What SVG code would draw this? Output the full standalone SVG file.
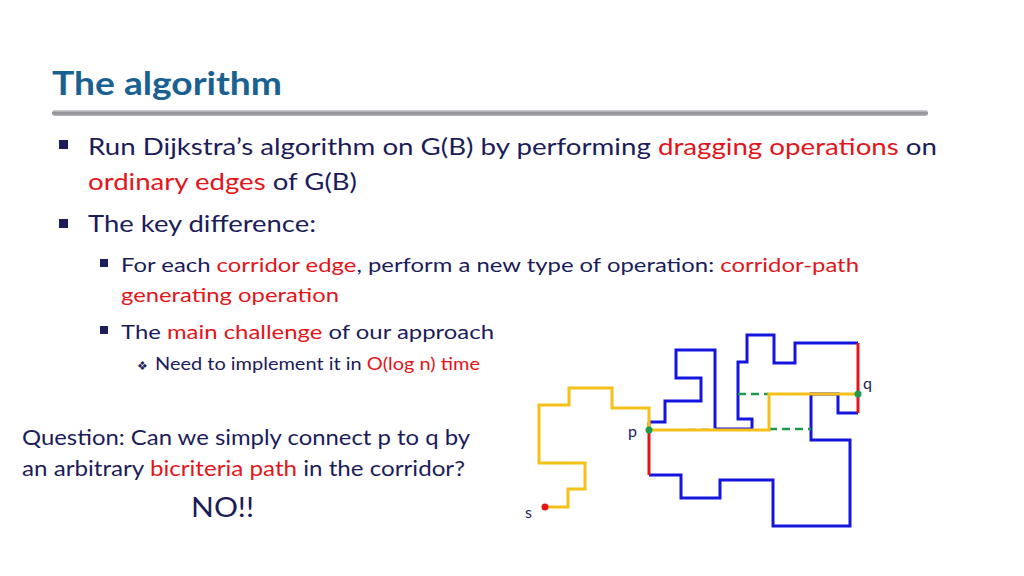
<svg xmlns="http://www.w3.org/2000/svg" width="1024" height="576" viewBox="0 0 1024 576">
<defs>
<linearGradient id="bar" x1="0" y1="0" x2="0" y2="1"><stop offset="0" stop-color="#d8d8dc"/><stop offset="0.5" stop-color="#8a8a92"/><stop offset="1" stop-color="#b8b8bc"/></linearGradient>
</defs>
<style>
text{font-family:Lato,"Liberation Sans",sans-serif;fill:#1c1c5a}
.r{fill:#e3141a}
.b{fill:none;stroke:#1515e0;stroke-width:3}
.y{fill:none;stroke:#f5c018;stroke-width:3}
.red{stroke:#e3141a;stroke-width:3}
.g{stroke:#1e9a50;stroke-width:2.5;stroke-dasharray:8 5}
</style>
<rect width="1024" height="576" fill="#fff"/>
<text x="52" y="95" font-family="Liberation Sans" font-weight="bold" font-size="33" style="fill:#1a6192" textLength="230" lengthAdjust="spacingAndGlyphs">The algorithm</text>
<rect x="52" y="110" width="876" height="6" rx="3" fill="url(#bar)"/>
<g id="bullets">
<rect x="59" y="140" width="9" height="9" fill="#1c1c5a"/>
<text x="88" y="155" font-size="23" textLength="849" lengthAdjust="spacingAndGlyphs">Run Dijkstra’s algorithm on G(B) by performing <tspan class="r">dragging operations</tspan> on</text>
<text x="88" y="190" font-size="23" textLength="269" lengthAdjust="spacingAndGlyphs"><tspan class="r">ordinary edges</tspan> of G(B)</text>
<rect x="59" y="219" width="9" height="9" fill="#1c1c5a"/>
<text x="88" y="232" font-size="23" textLength="228" lengthAdjust="spacingAndGlyphs">The key difference:</text>
<rect x="100" y="259" width="8" height="8" fill="#1c1c5a"/>
<text x="121" y="272" font-size="19.5" textLength="738" lengthAdjust="spacingAndGlyphs">For each <tspan class="r">corridor edge</tspan>, perform a new type of operation: <tspan class="r">corridor-path</tspan></text>
<text x="121" y="302" font-size="19.5" class="r" textLength="218" lengthAdjust="spacingAndGlyphs">generating operation</text>
<rect x="100" y="326" width="8" height="8" fill="#1c1c5a"/>
<text x="121" y="339" font-size="19.5" textLength="373" lengthAdjust="spacingAndGlyphs">The <tspan class="r">main challenge</tspan> of our approach</text>
<text x="137" y="370" font-size="12">❖</text>
<text x="155" y="370" font-size="16.5" textLength="325" lengthAdjust="spacingAndGlyphs">Need to implement it in <tspan class="r">O(log n) time</tspan></text>
</g>
<g id="question">
<text x="22" y="445" font-size="21" textLength="448" lengthAdjust="spacingAndGlyphs">Question: Can we simply connect p to q by</text>
<text x="22" y="476" font-size="21" textLength="443" lengthAdjust="spacingAndGlyphs">an arbitrary <tspan class="r">bicriteria path</tspan> in the corridor?</text>
<text x="191" y="517" font-size="26" textLength="63" lengthAdjust="spacingAndGlyphs">NO!!</text>
</g>
<g id="corridor">
<polyline class="b" points="649,422 665,422 665,401 701,401 701,378 676,378 676,350 715,350 715,429 752,429 752,419 738,419 738,362 747,362 747,335 774,335 774,363 795,363 795,343 858,343"/>
<polyline class="b" points="858,413 838,413 838,394 811,394 811,440 850,440 850,526 773,526 773,480 720,480 720,498 681,498 681,475 649,475"/>
<line class="red" x1="649" y1="422" x2="649" y2="475"/>
<line class="red" x1="858" y1="343" x2="858" y2="413"/>
</g>
<g id="connectors">
<line class="g" x1="738" y1="394" x2="769" y2="394"/>
<line x1="688" y1="429" x2="715" y2="429" stroke="#c9d9c9" stroke-width="2" stroke-dasharray="8 5"/>
<line class="g" x1="769" y1="429" x2="811" y2="429"/>
<polyline class="y" points="545,507 568,507 568,489 585,489 585,463 539,463 539,405 569,405 569,388 612,388 612,408 649,408 649,430 769,430 769,394 857,394"/>
</g>
<g id="points">
<circle cx="545" cy="507" r="3.5" fill="#e3141a"/>
<circle cx="649" cy="430" r="3.5" fill="#1e9a50"/>
<circle cx="858" cy="394" r="3.5" fill="#1e9a50"/>
<text x="628" y="437" font-size="16">p</text>
<text x="863" y="389" font-size="16">q</text>
<text x="525" y="518" font-size="16">s</text>
</g>
</svg>
